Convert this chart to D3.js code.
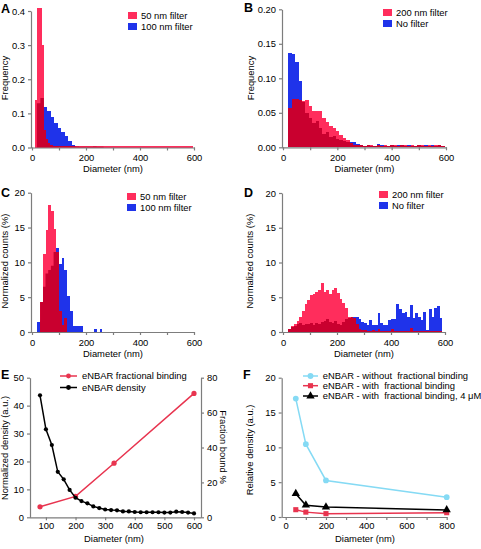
<!DOCTYPE html>
<html><head><meta charset="utf-8">
<script src="https://cdn.jsdelivr.net/npm/d3@7"></script>
<style>body{margin:0;background:#fff}</style>
</head><body><svg id="c" width="481" height="549"></svg>
<script>
// ---------------- DATA ----------------
// Panel A (Frequency)
const aRedStart = 12, aRedWidth = 8;   // 50 nm filter
const aRed = [0.14,0.41,0.41,0.30,0.05,0.025,0.012,0.006,
  0.003,0.003,0.003,0.003,0.003,0.003,0.003,0.003,0.003,0.003,0.003,0.003,0.003,
  0.003,0.003,0.003,0.003,0.003,0.003,0.003,0.003,0.003,0.003,0.003,0.003,0.003,
  0.003,0.003,0.003,0.003,0.003,0.003,0.003,0.003,0.003,0.003,0.003,0.003,0.003,
  0.003,0.003,0.003,0.003,0.003,0.003,0.003,0.003,0.003,0.003,0.003,0.003,0.003,
  0.003,0.003,0.003,0.003,0.003,0.003,0.003,0.003,0.003,0.003,0.003,0.003,0.003];
const aBlueStart = 18, aBlueWidth = 13; // 100 nm filter
const aBlue = [0.13,0.145,0.119,0.107,0.09,0.072,0.057,0.046,0.033,0.02,0.008,0.003,
  0.002,0.002,0.002,0.002,0.003,0.002,0.002];
const aLegend = ["50 nm filter","100 nm filter"];
const aYTicks = [0,0.1,0.2,0.3,0.4];

// Panel B (Frequency)
const bStart = 20, bWidth = 12.5;
const bRed = [0.0565,0.070,0.070,0.068,0.067,0.069,0.060,0.053,0.053,0.053,0.043,0.036,
  0.031,0.028,0.024,0.018,0.014,0.010,0.006,0.004,0.003,0.003,0.002,0.003,0.003,0.002,
  0.003,0.002,0.003,0.002,0.003,0.003,0.002,0.003,0.003,0.002,0.003,0.002,0.003,0.003,
  0.002,0.003,0.002,0.003,0.003,0.002];   // 200 nm filter
const bBlue = [0.136,0.135,0.123,0.096,0.065,0.050,0.042,0.035,0.038,0.028,0.020,0.022,
  0.015,0.017,0.012,0.010,0.009,0.008,0.008,0.007,0.005,0.004,0.002,0.003,0.002,0.002,
  0.005,0.003,0.002,0.002,0.003,0.002,0.004,0.003,0.002,0.003,0.002,0.002,0.003,0.002,
  0.003,0.002,0.003,0.002,0.003,0.002];   // No filter
const bLegend = ["200 nm filter","No filter"];
const bYTicks = [0,0.05,0.10,0.15,0.20];

// Panel C (Normalized counts %)
const cRedStart = 30, cRedWidth = 10;
const cRed = [4.3,11.2,14.7,18.2,17.4,14.8,11.5,3.0,1.0,2.0];           // 50 nm filter
const cBlueStart = 20, cBlueWidth = 10;
const cBlue = [1.5,4.3,6.5,8.4,8.9,9.5,11.5,12.0,9.7,10.6,8.9,5.1,3.0,0.9,0.9,0.8,0.8,
  0,0,0,0,0.5,0,0.5];                                                    // 100 nm filter
const cLegend = ["50 nm filter","100 nm filter"];

// Panel D (Normalized counts %)
const dStart = 20, dWidth = 10;
const dRed = [0.5,0.8,1.1,1.6,2.2,3.0,4.0,4.6,5.3,5.5,5.8,6.1,7.0,5.8,6.0,5.5,6.0,6.4,
  5.6,4.8,4.2,3.5,2.2,2.1,2.0,1.2,0.4,0.3,0.3,0.2,0.2,0.3,0.2,0.4,0.2,0.1,0.1,0.2,0.4,
  0.1,0.1,0.2,0.1,0.1,0.2,0.6,0.1,0.1,0.1,0.1,0.1,0.1,0.1,0.1,0.1,0.1,0.1];  // 200 nm filter
const dBlue = [0.4,0.7,0.9,1.2,1.3,1.0,1.2,1.1,1.3,1.0,1.3,1.2,1.4,1.6,1.8,1.4,1.3,1.6,
  1.2,1.0,1.5,1.8,2.0,2.2,2.2,2.2,1.9,1.4,1.25,1.0,1.7,1.0,1.0,2.8,1.25,1.0,1.0,1.7,1.8,
  1.8,4.1,3.3,2.7,2.9,2.2,3.9,2.0,2.7,2.2,1.7,2.9,0.3,3.3,2.2,3.5,3.7,2.0];   // No filter
const dLegend = ["200 nm filter","No filter"];
const cdYTicks = [0,5,10,15,20];
const histXTicks = [0,100,200,300,400,500,600];

// Panel E
const eDensDiam = [80,100,120,140,160,180,200,220,240,260,280,300,320,340,360,380,400,
  420,440,460,480,500,520,540,560,580,600];
const eDensity = [43.7,31.5,25.9,16.3,13.6,9.8,7.0,5.8,5.0,3.9,3.3,2.8,2.6,2.5,2.1,2.1,
  1.9,1.8,1.8,1.8,1.8,1.7,1.7,2.0,1.9,1.7,1.4];
const eFracDiam = [80,200,330,600];
const eFrac = [6,12,31,71];
const eLegend = ["eNBAR fractional binding","eNBAR density"];
const eXTicks = [100,200,300,400,500,600];
const eLeftTicks = [0,10,20,30,40,50];
const eRightTicks = [0,20,40,60,80];

// Panel F
const fDiam = [50,100,200,800];
const fWithout = [17.0,10.45,5.25,2.85];
const fWith = [1.05,0.7,0.48,0.62];
const fWith4uM = [3.35,1.7,1.43,1.02];
const fLegend = ["eNBAR - without  fractional binding","eNBAR - with  fractional binding",
  "eNBAR - with  fractional binding, 4 \u03BCM"];
const fXTicks = [0,200,400,600,800];
const fYTicks = [0,5,10,15,20];

// ---------------- DRAWING ----------------
const FONT = '"Liberation Sans", Arial, Helvetica, sans-serif';
const FS = 9.4;
const AX = "#7d7d7d";
const RED = "#ff2d5c", BLUE = "#1f33ea", OVER = "#c9002f";
const svg = d3.select("#c").attr("font-family", FONT);

function styleAxis(g){
  g.selectAll("path,line").attr("stroke", AX).attr("stroke-width", 1.2);
  g.selectAll("text").attr("fill", "#000").attr("font-size", FS).attr("font-family", FONT);
}
function label(txt, x, y, opts={}){
  const t = svg.append("text").attr("x", x).attr("y", y).text(txt)
    .attr("font-size", opts.size || FS).attr("font-family", FONT)
    .attr("text-anchor", opts.anchor || "start")
    .attr("font-weight", opts.bold ? "bold" : "normal")
    .style("white-space", "pre");
  if (opts.rot) t.attr("transform", `rotate(${opts.rot},${x},${y})`);
  return t;
}
function bars(sel, x, y, start, w, vals, fill){
  sel.selectAll(null).data(vals).join("rect")
    .attr("x", (d,i) => x(start + i*w))
    .attr("width", (d,i) => x(start + (i+1)*w) - x(start + i*w))
    .attr("y", d => y(d)).attr("height", d => y(0) - y(d))
    .attr("fill", fill).attr("shape-rendering", "crispEdges");
}
let clipN = 0;
function histPanel(o){
  const x = d3.scaleLinear().domain([0,600]).range([o.x0, o.x1]);
  const y = d3.scaleLinear().domain([0,o.ymax]).range([o.y0, o.y1]);
  const id = "clip" + (clipN++);
  const cp = svg.append("clipPath").attr("id", id);
  bars(cp, x, y, o.blueStart, o.blueWidth, o.blue, "#000");
  const g = svg.append("g");
  bars(g, x, y, o.blueStart, o.blueWidth, o.blue, BLUE);
  bars(g, x, y, o.redStart, o.redWidth, o.red, RED);
  bars(g.append("g").attr("clip-path", `url(#${id})`), x, y, o.redStart, o.redWidth, o.red, OVER);
  // axes
  const gx = svg.append("g").attr("transform", `translate(0,${o.y0})`)
    .call(d3.axisBottom(x).tickValues(histXTicks).tickFormat(d => d % 200 ? "" : d)
      .tickSizeInner(3).tickSizeOuter(0).tickPadding(4));
  gx.select(".domain").attr("d", `M${o.ax},0.5H${o.x1+1}`);
  styleAxis(gx);
  const gy = svg.append("g").attr("transform", `translate(${o.ax},0)`)
    .call(d3.axisLeft(y).tickValues(o.yticks).tickFormat(d3.format(o.yfmt))
      .tickSizeInner(3).tickSizeOuter(0).tickPadding(3));
  styleAxis(gy);
  // legend
  [[RED, o.legend[0]],[BLUE, o.legend[1]]].forEach((e,i) => {
    svg.append("rect").attr("x", o.lx).attr("y", o.ly + i*11 - 7).attr("width", 9).attr("height", 7).attr("fill", e[0]);
    label(e[1], o.lx + 13, o.ly + i*11);
  });
  label(o.letter, o.letX, o.letY, {bold:true, size:12.5});
  label(o.ytitle, o.ytx, o.yty, {anchor:"middle", rot:-90});
  label("Diameter (nm)", (o.x0+o.x1)/2, o.y0 + 24.5, {anchor:"middle"});
}

histPanel({letter:"A", letX:1, letY:13, x0:32, x1:194, ax:31, y0:147.5, y1:11, ymax:0.4,
  yticks:aYTicks, yfmt:".1f", red:aRed, redStart:aRedStart, redWidth:aRedWidth,
  blue:aBlue, blueStart:aBlueStart, blueWidth:aBlueWidth, legend:aLegend, lx:128, ly:19,
  ytitle:"Frequency", ytx:8, yty:78});
histPanel({letter:"B", letX:244, letY:12, x0:283, x1:446, ax:282, y0:147.3, y1:9.3, ymax:0.2,
  yticks:bYTicks, yfmt:".2f", red:bRed, redStart:bStart, redWidth:bWidth,
  blue:bBlue, blueStart:bStart, blueWidth:bWidth, legend:bLegend, lx:383, ly:16,
  ytitle:"Frequency", ytx:253.5, yty:78});
histPanel({letter:"C", letX:1, letY:197, x0:32, x1:194, ax:31, y0:332, y1:192.7, ymax:20,
  yticks:cdYTicks, yfmt:"d", red:cRed, redStart:cRedStart, redWidth:cRedWidth,
  blue:cBlue, blueStart:cBlueStart, blueWidth:cBlueWidth, legend:cLegend, lx:127, ly:200,
  ytitle:"Normalized counts (%)", ytx:8, yty:261});
histPanel({letter:"D", letX:244, letY:197, x0:283, x1:445, ax:282, y0:332, y1:193, ymax:20,
  yticks:cdYTicks, yfmt:"d", red:dRed, redStart:dStart, redWidth:dWidth,
  blue:dBlue, blueStart:dStart, blueWidth:dWidth, legend:dLegend, lx:379, ly:198,
  ytitle:"Normalized counts (%)", ytx:252.5, yty:261});

// ---- Panel E ----
(function(){
  const x = d3.scaleLinear().domain([80,600]).range([40,194]);
  const yl = d3.scaleLinear().domain([0,50]).range([517.3,377.7]);
  const yr = d3.scaleLinear().domain([0,80]).range([517.3,377.7]);
  const ERED = "#e8344f";
  const gx = svg.append("g").attr("transform","translate(0,517.3)")
    .call(d3.axisBottom(x).tickValues(eXTicks).tickSizeInner(3).tickSizeOuter(0).tickPadding(2.5));
  gx.select(".domain").attr("d","M30,0.5H201");
  styleAxis(gx);
  const gl = svg.append("g").attr("transform","translate(30,0)")
    .call(d3.axisLeft(yl).tickValues(eLeftTicks).tickSizeInner(3).tickSizeOuter(0).tickPadding(3));
  styleAxis(gl);
  const gr = svg.append("g").attr("transform","translate(201,0)")
    .call(d3.axisRight(yr).tickValues(eRightTicks).tickSizeInner(3).tickSizeOuter(0).tickPadding(3));
  styleAxis(gr);
  const ptsF = eFracDiam.map((d,i)=>[x(d), yr(eFrac[i])]);
  const ptsD = eDensDiam.map((d,i)=>[x(d), yl(eDensity[i])]);
  svg.append("path").attr("d", d3.line()(ptsF)).attr("fill","none").attr("stroke",ERED).attr("stroke-width",1.5);
  svg.selectAll(null).data(ptsF).join("circle").attr("cx",d=>d[0]).attr("cy",d=>d[1]).attr("r",2.6).attr("fill",ERED);
  svg.append("path").attr("d", d3.line()(ptsD)).attr("fill","none").attr("stroke","#000").attr("stroke-width",1.5);
  svg.selectAll(null).data(ptsD).join("circle").attr("cx",d=>d[0]).attr("cy",d=>d[1]).attr("r",2.1).attr("fill","#000");
  // legend
  [[ERED,eLegend[0],379],["#000",eLegend[1],390.5]].forEach(e=>{
    svg.append("line").attr("x1",60).attr("x2",77).attr("y1",e[2]-3).attr("y2",e[2]-3).attr("stroke",e[0]).attr("stroke-width",1.5);
    svg.append("circle").attr("cx",68.5).attr("cy",e[2]-3).attr("r",2.4).attr("fill",e[0]);
    label(e[1], 82, e[2]);
  });
  label("E", 1, 379, {bold:true, size:12.5});
  label("Normalized density (a.u.)", 8, 448, {anchor:"middle", rot:-90});
  label("Fraction bound %", 220, 447, {anchor:"middle", rot:90});
  label("Diameter (nm)", 114, 542, {anchor:"middle"});
})();

// ---- Panel F ----
(function(){
  const x = d3.scaleLinear().domain([-20,800]).range([281.7,446.7]);
  const y = d3.scaleLinear().domain([0,20]).range([517,377.7]);
  const CY = "#85daf4", FR = "#e8344f";
  const gx = svg.append("g").attr("transform","translate(0,517)")
    .call(d3.axisBottom(x).tickValues([0,100,200,300,400,500,600,700,800]).tickFormat(d=>d%200?"":d)
      .tickSizeInner(3).tickSizeOuter(0).tickPadding(2.5));
  styleAxis(gx);
  const gy = svg.append("g").attr("transform","translate(281.7,0)")
    .call(d3.axisLeft(y).tickValues(fYTicks).tickSizeInner(3).tickSizeOuter(0).tickPadding(3));
  styleAxis(gy);
  const series = [[fWithout, CY, "circle"], [fWith, FR, "square"], [fWith4uM, "#000", "triangle"]];
  const sym = {circle:d3.symbolCircle, square:d3.symbolSquare, triangle:d3.symbolTriangle};
  const size = {circle:26, square:26, triangle:30};
  series.forEach(s=>{
    const pts = fDiam.map((d,i)=>[x(d), y(s[0][i])]);
    svg.append("path").attr("d", d3.line()(pts)).attr("fill","none").attr("stroke",s[1]).attr("stroke-width",1.5);
    svg.selectAll(null).data(pts).join("path")
      .attr("transform",d=>`translate(${d[0]},${d[1]})`)
      .attr("d", d3.symbol().type(sym[s[2]]).size(size[s[2]])).attr("fill",s[1]);
  });
  [379, 388.7, 399].forEach((ly,i)=>{
    const s = series[i];
    svg.append("line").attr("x1",303).attr("x2",318).attr("y1",ly-3).attr("y2",ly-3).attr("stroke",s[1]).attr("stroke-width",1.5);
    svg.append("path").attr("transform",`translate(310.5,${ly-3})`)
      .attr("d", d3.symbol().type(sym[s[2]]).size(size[s[2]])).attr("fill",s[1]);
    label(fLegend[i], 322.7, ly);
  });
  label("F", 243, 379, {bold:true, size:12.5});
  label("Relative density (a.u.)", 252.5, 450, {anchor:"middle", rot:-90});
  label("Diameter (nm)", 365, 542, {anchor:"middle"});
})();
</script></body></html>
